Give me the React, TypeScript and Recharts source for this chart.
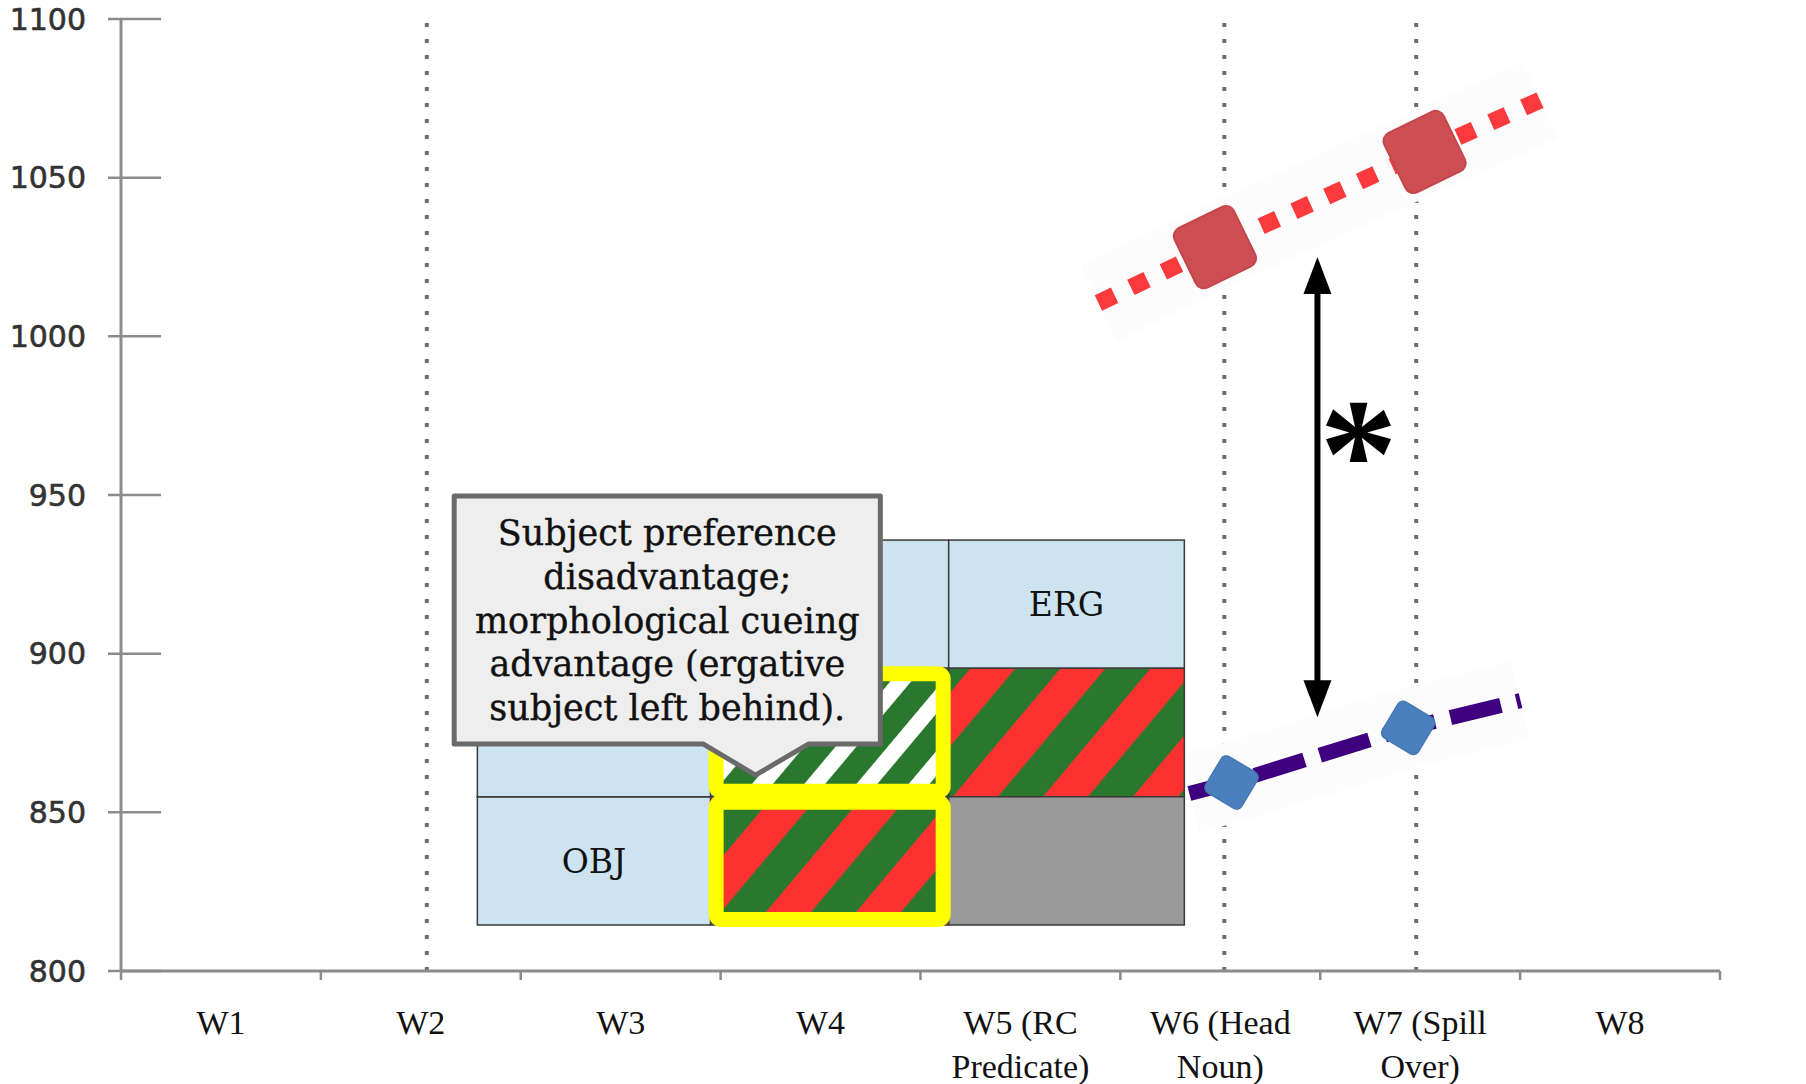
import React from 'react';
import { LineChart, Line, XAxis, YAxis, ReferenceLine, ReferenceArea, ReferenceDot } from 'recharts';

// region labels along the x axis (one band per word)
const regionLabels = [
  ['W1'], ['W2'], ['W3'], ['W4'],
  ['W5 (RC', 'Predicate)'], ['W6 (Head', 'Noun)'], ['W7 (Spill', 'Over)'], ['W8'],
];
const xTicks = [0, 0.5, 1, 1.5, 2, 2.5, 3, 3.5, 4, 4.5, 5, 5.5, 6, 6.5, 7, 7.5, 8];
const yTicks = [800, 850, 900, 950, 1000, 1050, 1100];

// dotted guides at W2, W6, W7
const guideX = [1.53, 5.52, 6.48];

// upper (red, dotted) series: position along the x axis and reading time
const upperX = [4.89, 5.473, 6.522, 7.102];
const upperRT = [1010.5, 1028.1, 1058.1, 1074.5];
const upperMarked = [false, true, true, false];

// lower (purple, dashed) series
const lowerX = [5.345, 5.556, 6.44, 7.002];
const lowerRT = [855.9, 859.4, 876.6, 885.2];
const lowerMarked = [false, true, true, false];

// schematic boxes: column edges (x) and row edges (ms)
const boxEdgesX = [1.783, 2.95, 4.141, 5.32];
const boxEdgesY = [814.5, 854.9, 895.4, 935.8];
const boxCells = [
  { col: 0, from: 0, to: 1, kind: 'plain', text: 'OBJ' },
  { col: 0, from: 1, to: 3, kind: 'plain', text: '' },
  { col: 1, from: 2, to: 3, kind: 'plain', text: '' },
  { col: 1, from: 1, to: 2, kind: 'greenWhite', text: '' },
  { col: 1, from: 0, to: 1, kind: 'redGreen', text: '' },
  { col: 2, from: 2, to: 3, kind: 'plain', text: 'ERG' },
  { col: 2, from: 1, to: 2, kind: 'redGreen', text: '' },
  { col: 2, from: 0, to: 1, kind: 'grey', text: '' },
];
const highlightedCells = [3, 4];

const calloutX = [1.667, 3.799];
const calloutY = [871.5, 949.7];
const calloutLines = [
  'Subject preference',
  'disadvantage;',
  'morphological cueing',
  'advantage (ergative',
  'subject left behind).',
];

const arrowX = 5.986;
const arrowY = [880, 1025];
const starX = 6.191;
const starY = 970.2;

const upperData = upperX.map((x, i) => ({ x, v: upperRT[i], mark: upperMarked[i] }));
const lowerData = lowerX.map((x, i) => ({ x, v: lowerRT[i], mark: lowerMarked[i] }));

const fills: Record<string, string> = {
  plain: '#cde3f0',
  grey: '#9a9a9a',
  redGreen: 'url(#hatchRG)',
  greenWhite: 'url(#hatchGW)',
};

const AXIS = '#8b8b8b';

const XTick = (p: any) => {
  const v = p.payload.value;
  if (Number.isInteger(v)) {
    return <line x1={p.x} x2={p.x} y1={p.y} y2={p.y + 9} stroke={AXIS} strokeWidth={2.5} />;
  }
  const lines = regionLabels[Math.floor(v)];
  return (
    <g>
      {lines.map((t, i) => (
        <text key={i} x={p.x} y={p.y + 63 + i * 44} textAnchor="middle"
          fontFamily="Liberation Serif" fontSize={34} fill="#111">{t}</text>
      ))}
    </g>
  );
};

const YTick = (p: any) => (
  <g>
    <line x1={p.x - 13} x2={p.x + 40} y1={p.y} y2={p.y} stroke={AXIS} strokeWidth={2.5} />
    <text x={p.x - 35} y={p.y} dy="0.36em" textAnchor="end" fontFamily="DejaVu Sans"
      fontSize={30} fill="#333" stroke="#333" strokeWidth={0.6}>{p.payload.value}</text>
  </g>
);

const boxShape = (kind: string, label: string) => (p: any) => (
  <g>
    <rect x={p.x} y={p.y} width={p.width} height={p.height} fill={fills[kind]} stroke="#3a3a3a" strokeWidth={1.5} />
    {label && (
      <text x={p.x + p.width / 2} y={p.y + p.height / 2} dy="0.36em" textAnchor="middle"
        fontFamily="DejaVu Serif" fontSize={33} fill="#111">{label}</text>
    )}
  </g>
);

const highlightShape = (p: any) => (
  <rect x={p.x + 5.5} y={p.y + 5.5} width={p.width - 11} height={p.height - 11} rx={5}
    fill="none" stroke="#ffff00" strokeWidth={15} />
);

const calloutShape = (p: any) => {
  const { x, y, width: w, height: h } = p;
  const b0 = x + w * 0.585;
  const b1 = x + w * 0.831;
  const tx = x + w * 0.707;
  const ty = y + h + 31;
  const d = `M${x},${y} H${x + w} V${y + h} H${b1} L${tx},${ty} L${b0},${y + h} H${x} Z`;
  return (
    <g>
      <path d={d} fill="#eeeeee" stroke="#6a6a6a" strokeWidth={5} strokeLinejoin="round" />
      {calloutLines.map((t, i) => (
        <text key={i} x={x + w / 2} y={y + 49 + i * 43.8} textAnchor="middle" fontFamily="DejaVu Serif"
          fontSize={35} fill="#111" stroke="#111" strokeWidth={0.4}>{t}</text>
      ))}
    </g>
  );
};

const arrowShape = (p: any) => {
  const x = p.x1;
  const top = Math.min(p.y1, p.y2);
  const bottom = Math.max(p.y1, p.y2);
  const hw = 14;
  const hh = 37;
  return (
    <g>
      <line x1={x} x2={x} y1={top + hh - 2} y2={bottom - hh + 2} stroke="#000" strokeWidth={6} />
      <path d={`M${x},${top} L${x + hw},${top + hh} L${x - hw},${top + hh} Z`} fill="#000" />
      <path d={`M${x},${bottom} L${x + hw},${bottom - hh} L${x - hw},${bottom - hh} Z`} fill="#000" />
    </g>
  );
};

const starShape = (p: any) => (
  <text x={p.cx} y={p.cy} dy="0.48em" textAnchor="middle" fontFamily="Liberation Serif"
    fontWeight="bold" fontSize={156} fill="#000">*</text>
);

const upperDot = (p: any) =>
  p.payload.mark ? (
    <rect key={p.index} x={p.cx - 33} y={p.cy - 33} width={66} height={66} rx={9}
      fill="#cd4e53" stroke="#c4464b" strokeWidth={2} transform={`rotate(-26 ${p.cx} ${p.cy})`} />
  ) : <g key={p.index} />;

const lowerDot = (p: any) =>
  p.payload.mark ? (
    <rect key={p.index} x={p.cx - 21} y={p.cy - 21} width={42} height={42} rx={6}
      fill="#4a80be" stroke="#4577b3" strokeWidth={1.5} transform={`rotate(31 ${p.cx} ${p.cy})`} />
  ) : <g key={p.index} />;

export default function App() {
  return (
    <div style={{ position: 'fixed', left: 0, top: 0, background: '#fff' }}>
      <LineChart width={1806} height={1084} margin={{ top: 19, right: 86, bottom: 0, left: 0 }}>
        <defs>
          <pattern id="hatchRG" patternUnits="userSpaceOnUse" width={69} height={69} patternTransform="rotate(40)">
            <rect width={69} height={69} fill="#2a782d" />
            <rect width={34.5} height={69} fill="#fe3131" />
          </pattern>
          <pattern id="hatchGW" patternUnits="userSpaceOnUse" width={40} height={40} patternTransform="rotate(40)">
            <rect width={40} height={40} fill="#2a782d" />
            <rect width={16} height={40} fill="#ffffff" />
          </pattern>
        </defs>
        <XAxis type="number" dataKey="x" domain={[0, 8]} ticks={xTicks} interval={0}
          height={113} tickSize={0} tickMargin={0} tickLine={false} tick={XTick}
          axisLine={{ stroke: AXIS, strokeWidth: 3 }} />
        <YAxis type="number" domain={[800, 1100]} ticks={yTicks} interval={0}
          width={121} tickSize={0} tickMargin={0} tickLine={false} tick={YTick}
          axisLine={{ stroke: AXIS, strokeWidth: 3 }} />

        {guideX.map((x) => (
          <ReferenceLine key={x} x={x} stroke="#6e6e6e" strokeWidth={4} strokeDasharray="4 12" zIndex={300} />
        ))}

        <Line data={upperData} dataKey="v" stroke="#fcfcfc" strokeWidth={84} dot={false}
          isAnimationActive={false} zIndex={400} />
        <Line data={lowerData} dataKey="v" stroke="#fcfcfc" strokeWidth={80} dot={false}
          isAnimationActive={false} zIndex={400} />
        <Line data={upperData} dataKey="v" stroke="#fb3a3e" strokeWidth={17} strokeDasharray="18 18"
          dot={upperDot} isAnimationActive={false} zIndex={410} />
        <Line data={lowerData} dataKey="v" stroke="#3f007f" strokeWidth={15} strokeDasharray="52 16"
          dot={lowerDot} isAnimationActive={false} zIndex={410} />

        {boxCells.map((c, i) => (
          <ReferenceArea key={`box-${i}`} x1={boxEdgesX[c.col]} x2={boxEdgesX[c.col + 1]}
            y1={boxEdgesY[c.from]} y2={boxEdgesY[c.to]} shape={boxShape(c.kind, c.text)} zIndex={450} />
        ))}
        {highlightedCells.map((i) => {
          const c = boxCells[i];
          return (
            <ReferenceArea key={`hl-${i}`} x1={boxEdgesX[c.col]} x2={boxEdgesX[c.col + 1]}
              y1={boxEdgesY[c.from]} y2={boxEdgesY[c.to]} shape={highlightShape} zIndex={460} />
          );
        })}
        <ReferenceArea x1={calloutX[0]} x2={calloutX[1]} y1={calloutY[0]} y2={calloutY[1]}
          shape={calloutShape} zIndex={470} />

        <ReferenceLine segment={[{ x: arrowX, y: arrowY[1] }, { x: arrowX, y: arrowY[0] }]}
          shape={arrowShape} zIndex={480} />
        <ReferenceDot x={starX} y={starY} r={0} shape={starShape} zIndex={600} />
      </LineChart>
    </div>
  );
}
